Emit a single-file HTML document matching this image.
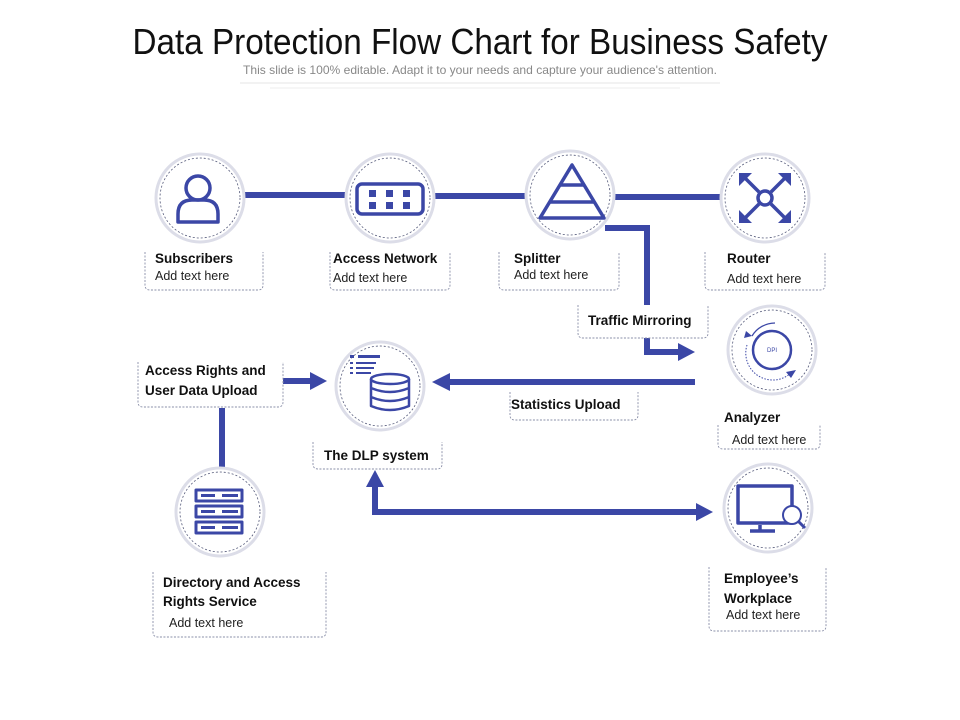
<!DOCTYPE html>
<html><head><meta charset="utf-8"><style>
html,body{margin:0;padding:0;background:#fff;}
svg{display:block;font-family:"Liberation Sans",sans-serif;}
</style></head><body>
<svg width="960" height="720" viewBox="0 0 960 720" xmlns="http://www.w3.org/2000/svg">
<defs>
<g id="circ">
<circle r="44" fill="#fff" stroke="#dcdde8" stroke-width="3"/>
<circle r="40" fill="none" stroke="#555a7a" stroke-width="0.8" stroke-dasharray="2,2"/>
</g>
</defs>
<text x="480" y="54" text-anchor="middle" font-size="36" textLength="695" lengthAdjust="spacingAndGlyphs" fill="#111">Data Protection Flow Chart for Business Safety</text>
<text x="480" y="74" text-anchor="middle" font-size="12" textLength="474" lengthAdjust="spacingAndGlyphs" fill="#888">This slide is 100% editable. Adapt it to your needs and capture your audience's attention.</text>
<line x1="240" y1="83" x2="720" y2="83" stroke="#e6e6e6" stroke-width="1"/>
<line x1="270" y1="88" x2="680" y2="88" stroke="#eee" stroke-width="1"/>

<g stroke="#3b47a6" stroke-width="6" fill="none">
<line x1="242" y1="195" x2="350" y2="195"/>
<line x1="432" y1="196" x2="530" y2="196"/>
<line x1="612" y1="197" x2="724" y2="197"/>
<polyline points="605,228 647,228 647,305"/>
<polyline points="647,338 647,352 680,352"/>
<line x1="695" y1="382" x2="448" y2="382"/>
<line x1="283" y1="381" x2="312" y2="381"/>
<line x1="222" y1="408" x2="222" y2="468"/>
<polyline points="375,485 375,512 698,512"/>
</g>
<g fill="#3b47a6">
<polygon points="678,343 695,352 678,361"/>
<polygon points="450,373 432,382 450,391"/>
<polygon points="310,372 327,381 310,390"/>
<polygon points="366,487 375,470 384,487"/>
<polygon points="696,503 713,512 696,521"/>
</g>

<!-- circles -->
<use href="#circ" x="200" y="198"/>
<use href="#circ" x="390" y="198"/>
<use href="#circ" x="570" y="195"/>
<use href="#circ" x="765" y="198"/>
<use href="#circ" x="772" y="350"/>
<use href="#circ" x="380" y="386"/>
<use href="#circ" x="220" y="512"/>
<use href="#circ" x="768" y="508"/>

<g stroke="#3b47a6" stroke-width="3.5" fill="none" stroke-linejoin="round">
<!-- user -->
<circle cx="198" cy="188" r="12"/>
<path d="M178,222 v-8 q0,-14 14,-14 h12 q14,0 14,14 v8 z"/>
<!-- access network -->
<rect x="357" y="184" width="66" height="30" rx="5"/>
<!-- pyramid -->
<path d="M572,165 L540,218 L604,218 Z"/>
<line x1="560" y1="185" x2="584" y2="185"/>
<line x1="550" y1="202" x2="594" y2="202"/>
<!-- router -->
<circle cx="765" cy="198" r="7"/>
<line x1="759" y1="192" x2="744" y2="177"/><line x1="771" y1="192" x2="786" y2="177"/>
<line x1="759" y1="204" x2="744" y2="219"/><line x1="771" y1="204" x2="786" y2="219"/>
<!-- analyzer -->
<circle cx="772" cy="350" r="19" stroke-width="2.5"/>
<!-- database -->
<ellipse cx="390" cy="379" rx="19" ry="5" stroke-width="2.5"/>
<path d="M371,379 v27 q19,8 38,0 v-27 M371,388 q19,8 38,0 M371,397 q19,8 38,0" stroke-width="2.5"/>
<!-- server -->
<rect x="196" y="490" width="46" height="11" stroke-width="3"/>
<rect x="196" y="506" width="46" height="11" stroke-width="3"/>
<rect x="196" y="522" width="46" height="11" stroke-width="3"/>
<!-- monitor -->
<rect x="738" y="486" width="54" height="37" stroke-width="3.5"/>
<line x1="760" y1="525" x2="760" y2="530"/>
<line x1="750" y1="531" x2="775" y2="531"/>
<circle cx="792" cy="515" r="9" stroke-width="2" fill="#fff"/>
<line x1="798" y1="521" x2="805" y2="528" stroke-width="3"/>
</g>
<g fill="#3b47a6">
<rect x="369" y="190" width="7" height="7"/><rect x="386" y="190" width="7" height="7"/><rect x="403" y="190" width="7" height="7"/>
<rect x="369" y="202" width="7" height="7"/><rect x="386" y="202" width="7" height="7"/><rect x="403" y="202" width="7" height="7"/>
<polygon points="739,173 752,173 739,186"/><polygon points="791,173 778,173 791,186"/>
<polygon points="739,223 752,223 739,210"/><polygon points="791,223 778,223 791,210"/>
<rect x="350" y="355" width="4" height="3"/><rect x="358" y="355" width="22" height="3"/>
<rect x="350" y="362" width="3" height="2"/><rect x="356" y="362" width="20" height="2"/>
<rect x="350" y="367" width="3" height="2"/><rect x="356" y="367" width="18" height="2"/>
<rect x="350" y="372" width="3" height="2"/><rect x="356" y="372" width="15" height="2"/>
<rect x="201" y="494" width="14" height="3"/><rect x="222" y="494" width="16" height="3"/>
<rect x="201" y="510" width="14" height="3"/><rect x="222" y="510" width="16" height="3"/>
<rect x="201" y="526" width="14" height="3"/><rect x="222" y="526" width="16" height="3"/>
<polygon points="746,331 752,336 744,338"/><polygon points="786,372 796,370 791,378"/>
</g>
<path d="M752,336 A27,27 0 0 1 775,323" stroke="#3b47a6" stroke-width="1.3" fill="none"/>
<path d="M747,345 A27,27 0 0 0 792,372" stroke="#3b47a6" stroke-width="1" stroke-dasharray="1.5,1.5" fill="none"/>
<text x="772" y="352" font-size="6" text-anchor="middle" fill="#3b47a6">DPI</text>
<circle cx="782" cy="346" r="0" />
<g fill="#aab" font-size="2"></g>

<!-- label boxes -->
<g fill="none" stroke="#8a8fa8" stroke-width="0.9" stroke-dasharray="2,1.5">
<path d="M145,252 V285 q0,5 5,5 H258 q5,0 5,-5 V252"/>
<path d="M330,252 V285 q0,5 5,5 H445 q5,0 5,-5 V252"/>
<path d="M499,252 V285 q0,5 5,5 H614 q5,0 5,-5 V252"/>
<path d="M705,252 V285 q0,5 5,5 H820 q5,0 5,-5 V252"/>
<path d="M578,305 V333 q0,5 5,5 H703 q5,0 5,-5 V305"/>
<path d="M510,392 V415 q0,5 5,5 H633 q5,0 5,-5 V392"/>
<path d="M718,425 V444 q0,5 5,5 H815 q5,0 5,-5 V425"/>
<path d="M313,442 V464 q0,5 5,5 H437 q5,0 5,-5 V442"/>
<path d="M138,362 V402 q0,5 5,5 H278 q5,0 5,-5 V362"/>
<path d="M153,572 V632 q0,5 5,5 H321 q5,0 5,-5 V572"/>
<path d="M709,567 V626 q0,5 5,5 H821 q5,0 5,-5 V567"/>
</g>

<g font-size="13.5" font-weight="bold" fill="#111">
<text x="155" y="263">Subscribers</text>
<text x="333" y="263">Access Network</text>
<text x="514" y="263">Splitter</text>
<text x="727" y="263">Router</text>
<text x="588" y="325">Traffic Mirroring</text>
<text x="511" y="409">Statistics Upload</text>
<text x="724" y="422">Analyzer</text>
<text x="324" y="460">The DLP system</text>
<text x="145" y="375">Access Rights and</text>
<text x="145" y="395">User Data Upload</text>
<text x="163" y="587">Directory and Access</text>
<text x="163" y="606">Rights Service</text>
<text x="724" y="583">Employee’s</text>
<text x="724" y="603">Workplace</text>
</g>
<g font-size="12.5" fill="#222">
<text x="155" y="280">Add  text here</text>
<text x="333" y="282">Add  text here</text>
<text x="514" y="279">Add  text here</text>
<text x="727" y="283">Add  text here</text>
<text x="732" y="444">Add  text here</text>
<text x="169" y="627">Add  text here</text>
<text x="726" y="619">Add  text here</text>
</g>
</svg>
</body></html>
